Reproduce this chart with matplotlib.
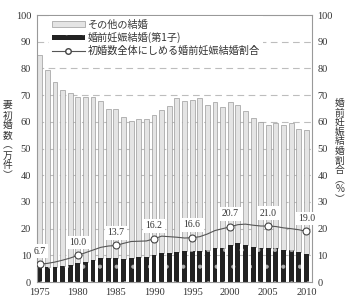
import matplotlib
matplotlib.use("Agg")
import matplotlib.pyplot as plt
from matplotlib.patches import Patch
from matplotlib.lines import Line2D

# --------------------------------------------------------------------------- #
# Data
# --------------------------------------------------------------------------- #
years = list(range(1975, 2011))

# wives' first marriages, total (10k)
total_marriages = [85.0, 79.4, 75.0, 71.9, 70.7, 69.4, 69.4, 69.5, 67.7, 65.0,
                   64.8, 61.9, 60.4, 61.1, 61.2, 62.5, 64.4, 65.9, 68.9, 67.8,
                   68.3, 68.8, 66.5, 67.5, 65.5, 67.5, 66.5, 64.0, 61.5, 60.0,
                   59.0, 59.5, 59.0, 59.5, 57.5, 57.0]

# premarital-pregnancy marriages, first child (10k)
premarital = [5.8, 5.5, 5.5, 6.0, 6.4, 7.0, 7.6, 8.2, 8.9, 9.1,
              8.9, 8.6, 9.1, 9.5, 9.5, 10.1, 11.0, 11.0, 11.4, 11.7,
              11.5, 11.5, 12.0, 12.9, 12.9, 13.9, 14.5, 13.9, 13.0, 12.6,
              12.6, 12.6, 12.0, 12.0, 11.4, 10.7]

# share of premarital-pregnancy marriages (%)
ratio = [6.7, 7.0, 7.5, 8.2, 9.0, 10.0, 11.0, 12.0, 13.0, 13.5,
         13.7, 14.5, 15.2, 15.3, 15.4, 16.2, 17.2, 17.0, 16.8, 16.5,
         16.6, 17.0, 18.0, 19.3, 20.0, 20.7, 21.5, 21.7, 21.3, 21.0,
         21.0, 20.8, 20.3, 20.0, 19.6, 19.0]

label_years = [1975, 1980, 1985, 1990, 1995, 2000, 2005, 2010]
label_texts = ["6.7", "10.0", "13.7", "16.2", "16.6", "20.7", "21.0", "19.0"]

legend_labels = ["その他の結婚", "婚前妊娠結婚(第1子)", "初婚数全体にしめる婚前妊娠結婚割合"]

NUM_FONT = ["Liberation Serif", "Noto Sans CJK JP"]
JP_FONT = ["Noto Sans CJK JP", "DejaVu Sans"]

plt.rcParams["hatch.linewidth"] = 0.5

# --------------------------------------------------------------------------- #
# Plot
# --------------------------------------------------------------------------- #
fig = plt.figure(figsize=(3.46, 3.02), dpi=100)
ax = fig.add_axes([0.106, 0.066, 0.795, 0.884])

others = [t - p for t, p in zip(total_marriages, premarital)]
w = 0.64
ax.bar(years, others, bottom=premarital, width=w, color="#e4e4e4",
       edgecolor="#9a9a9a", linewidth=0.5, zorder=2)
ax.bar(years, premarital, width=w, color="#222222", linewidth=0, zorder=2)
ax.bar(years, premarital, width=w, color="none", edgecolor="#b0b0b0",
       hatch=".", linewidth=0, zorder=2.1)

ax.plot(years, ratio, color="#555555", linewidth=0.8, zorder=3)
mark_vals = [ratio[years.index(y)] for y in label_years]
ax.plot(label_years, mark_vals, linestyle="none", marker="o", markersize=5,
        markerfacecolor="white", markeredgecolor="#444444",
        markeredgewidth=0.8, zorder=4)
for y, v, t in zip(label_years, mark_vals, label_texts):
    ax.annotate(t, (y, v), xytext=(0, 6), textcoords="offset points",
                ha="center", va="bottom", fontsize=7, family=NUM_FONT,
                color="#333333", zorder=5,
                bbox=dict(boxstyle="square,pad=0.25", fc="white", ec="none"))

ax.set_xlim(1974.6, 2010.7)
ax.set_ylim(0, 100)
ax.set_yticks(range(0, 101, 10))
ax.set_xticks(range(1975, 2011, 5))
for yv in range(10, 100, 10):
    ax.axhline(yv, color="#bdbdbd", linewidth=0.8, linestyle=(0, (6, 4)),
               zorder=1)

ax.tick_params(length=0, labelsize=7.5, colors="#333333", pad=4)
ax.tick_params(axis="y", labelleft=True, labelright=True)
for lab in ax.get_xticklabels() + ax.get_yticklabels():
    lab.set_family(NUM_FONT)
for s in ax.spines.values():
    s.set_color("#999999")
    s.set_linewidth(0.8)

# vertical axis titles
fig.text(0.022, 0.535, "\n".join("妻初婚数︵万件︶"), ha="center", va="center",
         fontsize=7, family=JP_FONT, linespacing=1.0, color="#333333")
fig.text(0.982, 0.50, "\n".join("婚前妊娠結婚割合︵%︶"), ha="center", va="center",
         fontsize=7, family=JP_FONT, linespacing=0.95, color="#333333")

handles = [
    Patch(facecolor="#e4e4e4", edgecolor="#9a9a9a", linewidth=0.5),
    Patch(facecolor="#222222", edgecolor="#b0b0b0", hatch=".", linewidth=0),
    Line2D([], [], color="#555555", linewidth=0.8, marker="o", markersize=4,
           markerfacecolor="white", markeredgecolor="#444444"),
]
leg = ax.legend(handles, legend_labels, loc="upper left",
                bbox_to_anchor=(0.045, 0.995), frameon=True, fancybox=False,
                handlelength=3.2, handleheight=0.5, handletextpad=0.35,
                labelspacing=0.25, borderpad=0.3, borderaxespad=0.0,
                prop={"family": JP_FONT, "size": 7.3})
leg.get_frame().set_facecolor("white")
leg.get_frame().set_edgecolor("none")
leg.get_frame().set_alpha(1.0)
leg.set_zorder(6)
for t in leg.get_texts():
    t.set_color("#333333")

fig.savefig("out.png", dpi=100)
